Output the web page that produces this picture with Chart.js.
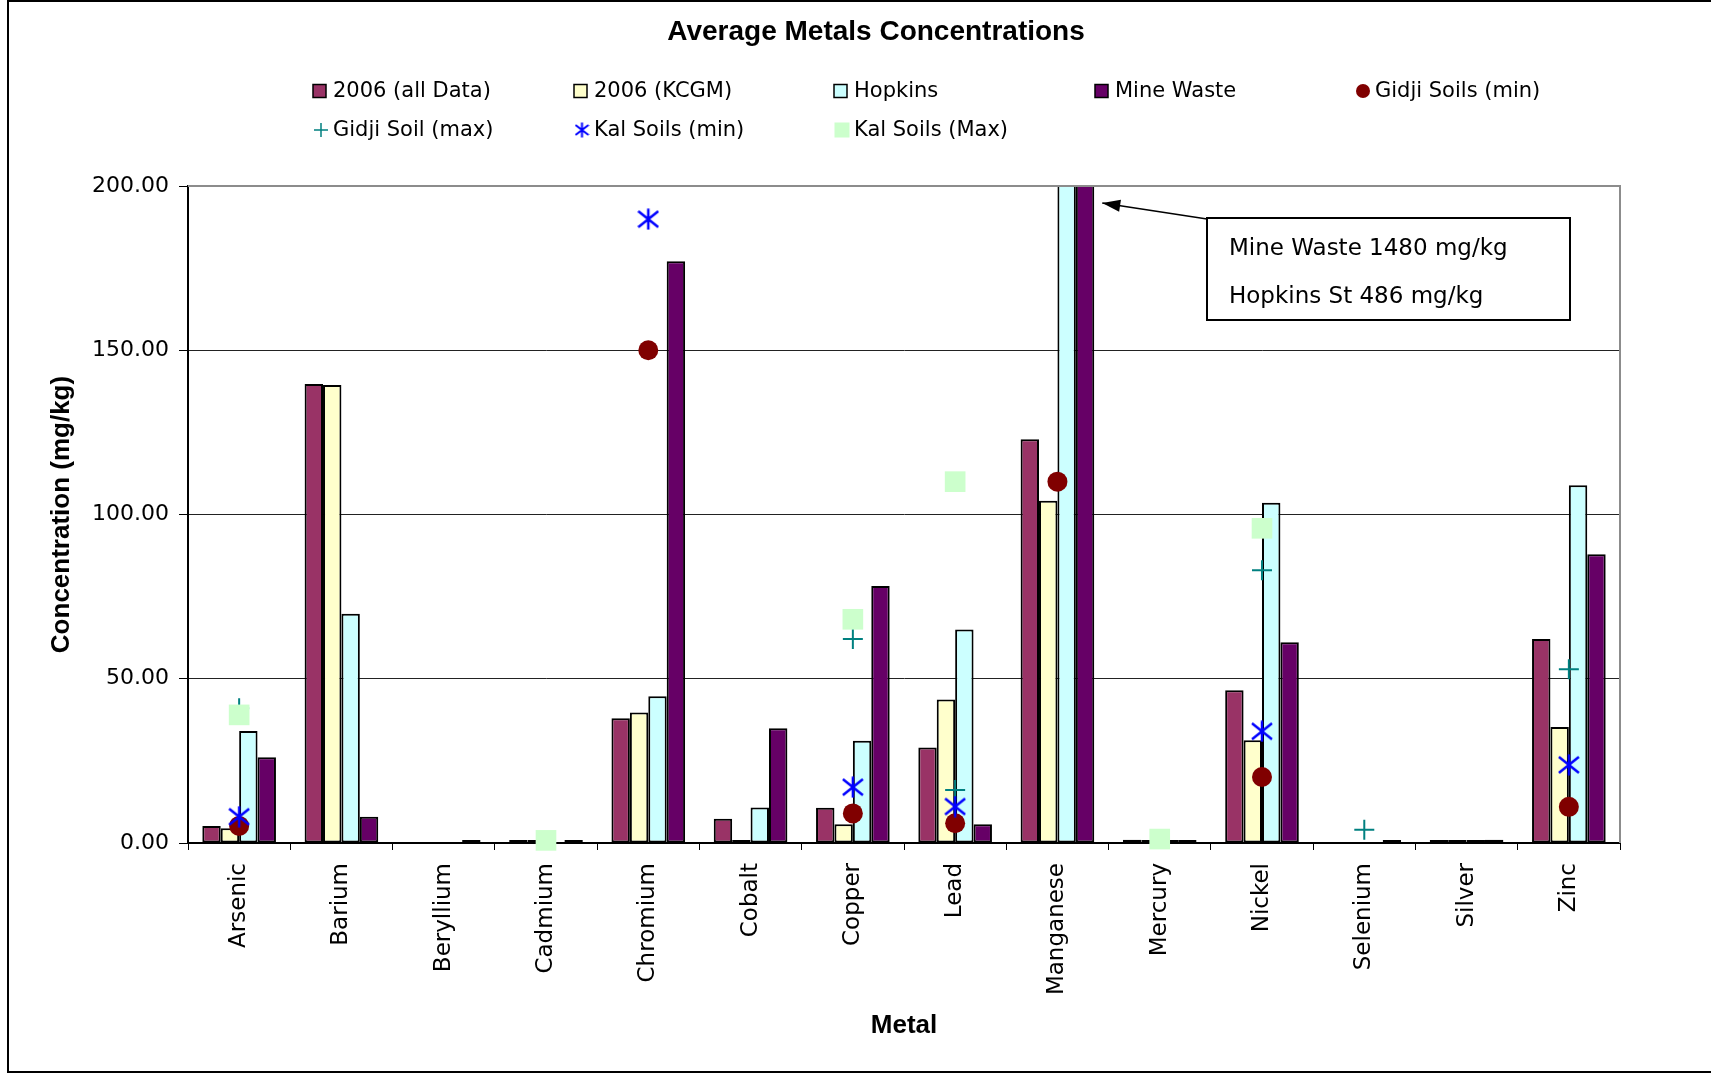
<!DOCTYPE html>
<html>
<head>
<meta charset="utf-8">
<title>Average Metals Concentrations</title>
<script src="https://cdn.jsdelivr.net/npm/chart.js@4.4.1/dist/chart.umd.min.js"></script>
<style>
  html, body { margin: 0; padding: 0; background: #fff; }
  #wrap { position: relative; width: 1711px; height: 1077px; }
</style>
</head>
<body>
<div id="wrap"><canvas id="metalsChart" width="1711" height="1077"></canvas></div>
<script>
// Data (mg/kg); null = no bar shown
const metals = ['Arsenic', 'Barium', 'Beryllium', 'Cadmium', 'Chromium', 'Cobalt', 'Copper',
                'Lead', 'Manganese', 'Mercury', 'Nickel', 'Selenium', 'Silver', 'Zinc'];

const allData2006 = [5.2, 139.7, null, 0.1, 38, 7.4, 10.7, 29.1, 122.9, 1.0, 46.5, null, 0.1, 62.1];
const kcgm2006    = [4.5, 139.4, null, 0.2, 39.7, 0.4, 5.7, 43.7, 104.2, 0.2, 31.3, null, 0.2, 35.3];
const hopkins     = [34.1, 69.8, null, null, 44.7, 10.8, 31.1, 65.0, 486, 0.3, 103.6, null, 0.6, 108.9];
const mineWaste   = [26.1, 8.0, 0.4, 0.3, 177.1, 34.9, 78.2, 5.7, 1480, 0.2, 61.1, 0.2, 1.0, 87.9];

const gidjiMin = [5.2, null, null, null, 150, null, 9.0, 6.0, 110, null, 20.1, null, null, 11];
const gidjiMax = [41, null, null, null, null, null, 62.1, 16.1, null, null, 83, 4.0, null, 52.9];
const kalMin   = [8, null, null, null, 189.9, null, 17, 11.1, null, null, 34, null, null, 23.8];
const kalMax   = [39, null, null, 0.8, null, null, 68.1, 110, null, 1.2, 95.8, null, null, null];

const yTicks = { min: 0, max: 200, step: 50 };

const FONT = 'DejaVu Sans';
const BOLD = 'Liberation Sans';

// asterisk marker (vertical bar + X), like the Excel "*" marker
function makeAsterisk(w, h, lw) {
  const c = document.createElement('canvas');
  c.width = w; c.height = h;
  const g = c.getContext('2d');
  g.strokeStyle = '#0000FF';
  g.lineWidth = lw;
  g.beginPath();
  g.moveTo(w / 2, 0.5); g.lineTo(w / 2, h - 0.5);
  g.moveTo(1, 3); g.lineTo(w - 1, h - 3);
  g.moveTo(1, h - 3); g.lineTo(w - 1, 3);
  g.stroke();
  return c;
}
const asteriskBig = makeAsterisk(22, 22, 2.5);
const asteriskSmall = makeAsterisk(15, 16, 2);

// Title, legend, callout and frames
const decorPlugin = {
  id: 'decor',
  beforeDraw(chart) {
    const ctx = chart.ctx;
    ctx.save();
    ctx.fillStyle = '#fff';
    ctx.fillRect(0, 0, chart.width, chart.height);
    ctx.restore();
  },
  afterDraw(chart) {
    const ctx = chart.ctx;
    const area = chart.chartArea;
    ctx.save();

    // plot frame: grey top/right
    ctx.strokeStyle = '#8c8c8c';
    ctx.lineWidth = 2;
    ctx.beginPath();
    ctx.moveTo(area.left, area.top);
    ctx.lineTo(area.right, area.top);
    ctx.lineTo(area.right, area.bottom);
    ctx.stroke();

    // outer border
    ctx.strokeStyle = '#000';
    ctx.lineWidth = 2;
    ctx.strokeRect(8, 1, chart.width + 10, 1071);

    // title
    ctx.fillStyle = '#000';
    ctx.font = 'bold 28px "' + BOLD + '"';
    ctx.textAlign = 'center';
    ctx.textBaseline = 'middle';
    ctx.fillText('Average Metals Concentrations', 876, 32);

    // legend, 5 columns
    const colX = [333, 594, 854, 1115, 1375];
    const rowY = [91, 130];
    ctx.font = '21px "' + FONT + '"';
    ctx.textAlign = 'left';
    chart.data.datasets.forEach((ds, i) => {
      const tx = colX[i % 5];
      const ty = rowY[Math.floor(i / 5)];
      if (ds.type === 'line') {
        const mx = tx - 12, my = ty;
        if (ds.pointStyle instanceof HTMLCanvasElement) {
          ctx.drawImage(asteriskSmall, mx - 7.5, my - 8);
        } else if (ds.pointStyle === 'rect') {
          ctx.fillStyle = ds.pointBackgroundColor;
          ctx.fillRect(mx - 7.5, my - 7.5, 15, 15);
        } else {
          ctx.fillStyle = ds.pointBackgroundColor;
          ctx.strokeStyle = ds.pointBorderColor;
          Chart.helpers.drawPoint(ctx, {
            pointStyle: ds.pointStyle, radius: 7, rotation: 0,
            borderWidth: ds.pointBorderWidth
          }, mx, my);
        }
      } else {
        ctx.fillStyle = ds.backgroundColor;
        ctx.fillRect(tx - 20, ty - 6.5, 13, 13);
        ctx.strokeStyle = '#000';
        ctx.lineWidth = 1.5;
        ctx.strokeRect(tx - 20, ty - 6.5, 13, 13);
      }
      ctx.fillStyle = '#000';
      ctx.fillText(ds.label, tx, ty + 1);
    });

    // callout for the off-scale Manganese bars
    const bar = chart.getDatasetMeta(3).data[8];
    const tipX = bar.x + bar.width / 2 + 8;
    const tipY = area.top + 17;
    const box = { x: 1207, y: 218, w: 363, h: 102 };
    ctx.strokeStyle = '#000';
    ctx.fillStyle = '#000';
    ctx.lineWidth = 1.5;
    ctx.beginPath();
    ctx.moveTo(box.x, box.y + 1);
    ctx.lineTo(tipX, tipY);
    ctx.stroke();
    const ang = Math.atan2(tipY - (box.y + 1), tipX - box.x);
    ctx.beginPath();
    ctx.moveTo(tipX, tipY);
    ctx.lineTo(tipX - 18 * Math.cos(ang) + 6 * Math.sin(ang), tipY - 18 * Math.sin(ang) - 6 * Math.cos(ang));
    ctx.lineTo(tipX - 18 * Math.cos(ang) - 6 * Math.sin(ang), tipY - 18 * Math.sin(ang) + 6 * Math.cos(ang));
    ctx.closePath();
    ctx.fill();

    ctx.fillStyle = '#fff';
    ctx.fillRect(box.x, box.y, box.w, box.h);
    ctx.lineWidth = 2;
    ctx.strokeRect(box.x, box.y, box.w, box.h);
    ctx.fillStyle = '#000';
    ctx.font = '23px "' + FONT + '"';
    ctx.textAlign = 'left';
    ctx.fillText('Mine Waste ' + mineWaste[8] + ' mg/kg', box.x + 22, box.y + 31);
    ctx.fillText('Hopkins St ' + hopkins[8] + ' mg/kg', box.x + 22, box.y + 79);

    ctx.restore();
  }
};

function barSet(label, data, color) {
  return {
    type: 'bar', label: label, data: data,
    backgroundColor: color, borderColor: '#000', borderWidth: 2,
    borderSkipped: false, minBarLength: 3,
    barPercentage: 1.0, categoryPercentage: 0.72,
    clip: 0, order: 10
  };
}

function pointSet(label, data, style, fill, stroke, radius, bw, order) {
  return {
    type: 'line', label: label, data: data, showLine: false,
    pointStyle: style, pointRadius: radius, pointHoverRadius: radius,
    pointBackgroundColor: fill, pointBorderColor: stroke, pointBorderWidth: bw,
    clip: false, order: order
  };
}

const ctx = document.getElementById('metalsChart').getContext('2d');
const metalsChart = new Chart(ctx, {
  type: 'bar',
  data: {
    labels: metals,
    datasets: [
      barSet('2006 (all Data)', allData2006, '#993366'),
      barSet('2006 (KCGM)', kcgm2006, '#FFFFCC'),
      barSet('Hopkins', hopkins, '#CCFFFF'),
      barSet('Mine Waste', mineWaste, '#660066'),
      pointSet('Gidji Soils (min)', gidjiMin, 'circle', '#800000', '#800000', 10, 0, 4),
      pointSet('Gidji Soil (max)', gidjiMax, 'cross', '#008080', '#008080', 10, 2, 3),
      pointSet('Kal Soils (min)', kalMin, asteriskBig, '#0000FF', '#0000FF', 10, 0, 2),
      pointSet('Kal Soils (Max)', kalMax, 'rect', '#CCFFCC', '#CCFFCC', 14.6, 0, 1)
    ]
  },
  options: {
    responsive: false,
    animation: false,
    events: [],
    layout: { padding: { left: 10, right: 91, top: 186, bottom: 20 } },
    plugins: {
      legend: { display: false },
      title: { display: false },
      tooltip: { enabled: false }
    },
    scales: {
      x: {
        offset: true,
        afterFit: function(scale) { scale.height = 214; },
        grid: { offset: true, drawOnChartArea: false, drawTicks: true, tickLength: 7, color: '#000' },
        border: { display: true, color: '#000', width: 2 },
        ticks: {
          autoSkip: false, maxRotation: 90, minRotation: 90, padding: 13,
          color: '#000', font: { family: FONT, size: 23 }
        },
        title: {
          display: true, text: 'Metal', color: '#000',
          font: { family: BOLD, size: 26, weight: 'bold' },
          padding: { top: 0, bottom: 16 }
        }
      },
      y: {
        min: yTicks.min,
        max: yTicks.max,
        afterFit: function(scale) { scale.width = 178; },
        grid: { color: '#222', lineWidth: 1, tickColor: '#000', tickLength: 9 },
        border: { display: true, color: '#000', width: 2 },
        ticks: {
          stepSize: yTicks.step, padding: 10, color: '#000',
          font: { family: FONT, size: 22 },
          callback: function(value) { return Number(value).toFixed(2); }
        },
        title: {
          display: true, text: 'Concentration (mg/kg)', color: '#000',
          font: { family: BOLD, size: 26, weight: 'bold' },
          padding: { top: 36, bottom: 0 }
        }
      }
    }
  },
  plugins: [decorPlugin]
});
</script>
</body>
</html>
